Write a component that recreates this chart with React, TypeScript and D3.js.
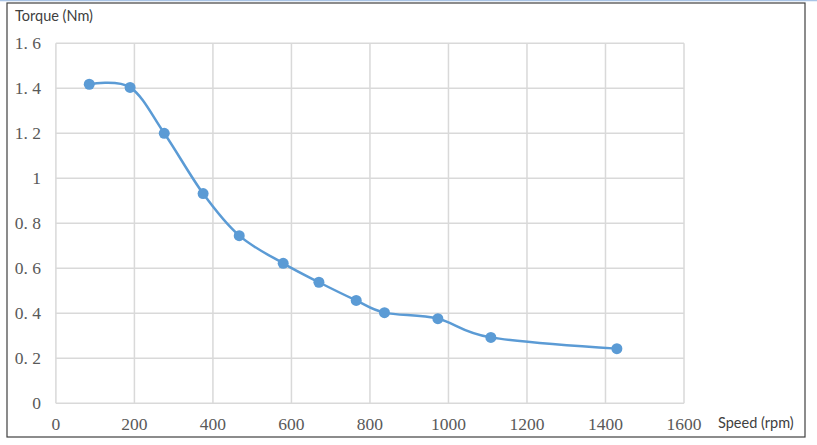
import { useEffect, useRef } from "react";
import * as d3 from "d3";

const speed = [85, 189, 276, 375, 467, 579, 670, 765, 837, 973, 1108, 1429];
const torque = [1.418, 1.404, 1.2, 0.932, 0.745, 0.622, 0.538, 0.457, 0.403, 0.376, 0.293, 0.243];
const xTicks = [0, 200, 400, 600, 800, 1000, 1200, 1400, 1600];
const yTicks = [0, 0.2, 0.4, 0.6, 0.8, 1, 1.2, 1.4, 1.6];

const W = 817;
const H = 445;
const LINE = "#5b9bd5";
const GRID = "#d9d9d9";
const LABEL = "#595959";
const SERIF = "'Liberation Serif', 'Times New Roman', serif";
const SANS = "Lato, 'Open Sans', sans-serif";

// excel writes decimals as "1. 6"
const fmtY = (v: number) => (Number.isInteger(v) ? String(v) : v.toFixed(1).replace(".", ". "));

export default function App() {
  const svgRef = useRef<SVGSVGElement | null>(null);

  useEffect(() => {
    const svg = d3.select(svgRef.current);
    svg.selectAll("*").remove();

    const x = d3.scaleLinear().domain([0, 1600]).range([55.9, 684]);
    const y = d3.scaleLinear().domain([0, 1.6]).range([403.3, 43.3]);

    svg.append("rect").attr("width", W).attr("height", H).attr("fill", "#fff");
    svg
      .append("line")
      .attr("x1", 0)
      .attr("x2", W)
      .attr("y1", 0.5)
      .attr("y2", 0.5)
      .attr("stroke", "#a9c4e6")
      .attr("stroke-width", 1.5);
    svg
      .append("rect")
      .attr("x", 7)
      .attr("y", 3)
      .attr("width", 798)
      .attr("height", 434)
      .attr("fill", "none")
      .attr("stroke", "#404040")
      .attr("stroke-width", 1.2);

    const grid = svg.append("g").attr("stroke", GRID).attr("stroke-width", 1.5);
    grid
      .selectAll("line.v")
      .data(xTicks)
      .join("line")
      .attr("class", "v")
      .attr("x1", (d) => x(d))
      .attr("x2", (d) => x(d))
      .attr("y1", y(1.6))
      .attr("y2", y(0));
    grid
      .selectAll("line.h")
      .data(yTicks)
      .join("line")
      .attr("class", "h")
      .attr("x1", x(0))
      .attr("x2", x(1600))
      .attr("y1", (d) => y(d))
      .attr("y2", (d) => y(d));

    svg
      .append("g")
      .selectAll("text")
      .data(yTicks)
      .join("text")
      .attr("x", 41)
      .attr("y", (d) => y(d) + 5.5)
      .attr("text-anchor", "end")
      .attr("font-family", SERIF)
      .attr("font-size", 17.5)
      .attr("fill", LABEL)
      .text((d) => fmtY(d));

    svg
      .append("g")
      .selectAll("text")
      .data(xTicks)
      .join("text")
      .attr("x", (d) => x(d))
      .attr("y", 430)
      .attr("text-anchor", "middle")
      .attr("font-family", SERIF)
      .attr("font-size", 17.5)
      .attr("fill", LABEL)
      .text((d) => String(d));

    const pts: [number, number][] = speed.map((s, i) => [x(s), y(torque[i])]);
    const line = d3.line().curve(d3.curveCardinal.tension(0));
    svg
      .append("path")
      .attr("d", line(pts))
      .attr("fill", "none")
      .attr("stroke", LINE)
      .attr("stroke-width", 2.5);
    svg
      .append("g")
      .selectAll("circle")
      .data(pts)
      .join("circle")
      .attr("cx", (d) => d[0])
      .attr("cy", (d) => d[1])
      .attr("r", 5.5)
      .attr("fill", LINE);

    svg
      .append("text")
      .attr("x", 15)
      .attr("y", 21)
      .attr("font-family", SANS)
      .attr("font-size", 14.5)
      .attr("fill", "#404040")
      .text("Torque (Nm)");
    svg
      .append("text")
      .attr("x", 718)
      .attr("y", 428)
      .attr("font-family", SANS)
      .attr("font-size", 14.5)
      .attr("fill", "#404040")
      .text("Speed (rpm)");
  }, []);

  return (
    <svg
      ref={svgRef}
      width={W}
      height={H}
      style={{ position: "absolute", left: 0, top: 0, display: "block" }}
    />
  );
}
